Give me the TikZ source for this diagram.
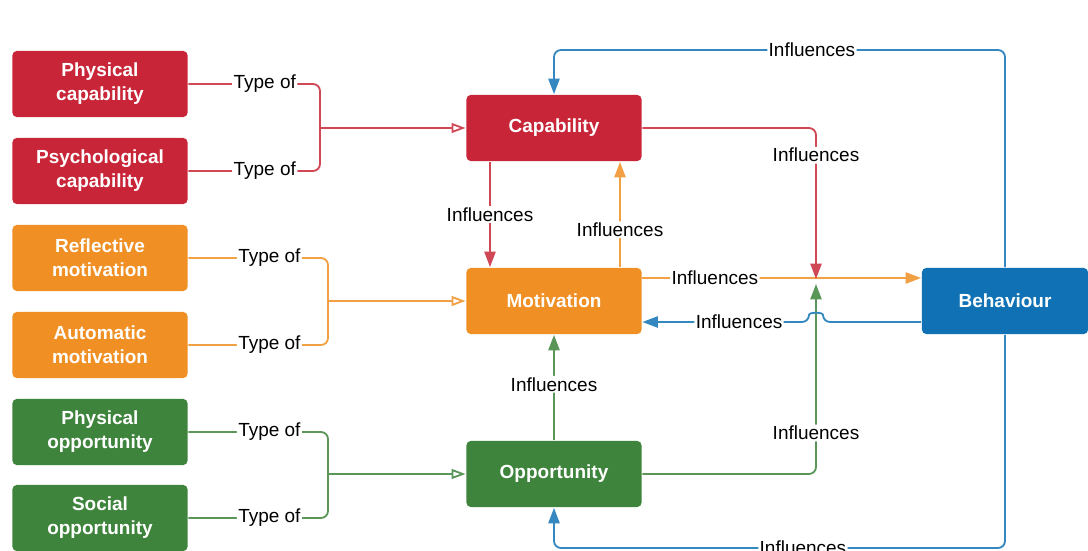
\documentclass[tikz,border=0pt]{standalone}
\usepackage{fontspec}
\setmainfont{Liberation Sans}
\usepackage{tikz}
\usetikzlibrary{arrows.meta,calc}

\definecolor{capred}{RGB}{200,38,56}
\definecolor{motorange}{RGB}{240,143,35}
\definecolor{oppgreen}{RGB}{62,132,60}
\definecolor{behblue}{RGB}{16,114,180}
\newcommand{\diafont}{\fontsize{13.5}{17}\selectfont}

\begin{document}
\begin{tikzpicture}[x=0.025cm,y=-0.025cm,line width=1.3pt,font=\diafont]
    \tikzstyle{box}=[rectangle,rounded corners=3pt,minimum width=4.375cm,minimum height=1.65cm,inner sep=2pt,text=white,font=\diafont\bfseries,align=center]
    \tikzstyle{cap box}=[box,fill=capred]
    \tikzstyle{mot box}=[box,fill=motorange]
    \tikzstyle{opp box}=[box,fill=oppgreen]
    \tikzstyle{beh box}=[box,fill=behblue,minimum width=4.15cm]
    \tikzstyle{annot}=[fill=white,inner sep=1pt,text=black,font=\diafont]
    \tikzstyle{link}=[rounded corners=5pt,-{Triangle[length=11pt,width=8pt]}]
    \tikzstyle{typeof}=[rounded corners=5pt]
    \useasboundingbox (0,0) rectangle (1088,551);

    % Draw the sub type boxes on the left
    \foreach \name / \y / \kind / \txt in {C-1/84/cap/{Physical\\capability}, C-2/171/cap/{Psychological\\capability},
        M-1/258/mot/{Reflective\\motivation}, M-2/345/mot/{Automatic\\motivation},
        O-1/432/opp/{Physical\\opportunity}, O-2/518/opp/{Social\\opportunity}}
        \node[\kind\space box] (\name) at (100,\y) {\txt};

    % Draw the main boxes
    \node[cap box] (cap) at (554,128) {Capability};
    \node[mot box] (mot) at (554,301) {Motivation};
    \node[opp box] (opp) at (554,474) {Opportunity};
    \node[beh box] (beh) at (1005,301) {Behaviour};

    % Junctions of the brackets and the crossing
    \coordinate (jc) at (320,128);
    \coordinate (jm) at (328,301);
    \coordinate (jo) at (328,474);
    \coordinate (hub) at (816,279);
    \coordinate (hop) at (816,322);
    \coordinate (top) at (554,50);
    \coordinate (bot) at (554,548);

    % Connect the sub types with their main box
    \foreach \src / \j / \dest / \clr in {C/jc/cap/capred, M/jm/mot/motorange, O/jo/opp/oppgreen} {
        \foreach \i in {1,2}
            \draw[typeof,draw=\clr!85] (\src-\i.east) -| node[annot,pos=0.29] {Type of} (\j);
        \draw[draw=\clr!85,-{Triangle[open,length=10pt,width=7pt]}] (\j) -- (\dest.west);
    }

    % Influences between the main boxes
    \draw[link,draw=capred!85] ($(cap.south)+(-64,0)$) -- node[annot] {Influences} ($(mot.north)+(-64,0)$);
    \draw[link,draw=motorange!85] ($(mot.north)+(66,0)$) -- node[annot,pos=0.355] {Influences} ($(cap.south)+(66,0)$);
    \draw[link,draw=oppgreen!85] (opp.north) -- node[annot,pos=0.53] {Influences} (mot.south);
    \draw[link,draw=motorange!85] ($(mot.east)+(0,-23)$) -- node[annot,pos=0.26] {Influences} ($(beh.west)+(0,-23)$);
    \draw[link,draw=capred!85] (cap.east) -| node[annot,pos=0.59] {Influences} (hub);
    \draw[link,draw=oppgreen!85] (opp.east) -| node[annot,pos=0.608] {Influences} ($(hub)+(0,5)$);

    % Behaviour feeds back to the three boxes
    \draw[link,draw=behblue!85] ($(beh.west)+(0,21)$) -- ($(hop)+(7,0)$)
        .. controls ($(hop)+(7,-10)$) and ($(hop)+(-7,-10)$) .. ($(hop)+(-7,0)$)
        -- node[annot,pos=0.42] {Influences} ($(mot.east)+(0,21)$);
    \draw[link,draw=behblue!85] (beh.north) |- node[annot,pos=0.714] {Influences} (top) -- (cap.north);
    \draw[link,draw=behblue!85] (beh.south) |- node[annot,pos=0.724] {Influences} (bot) -- (opp.south);

\end{tikzpicture}
\end{document}
